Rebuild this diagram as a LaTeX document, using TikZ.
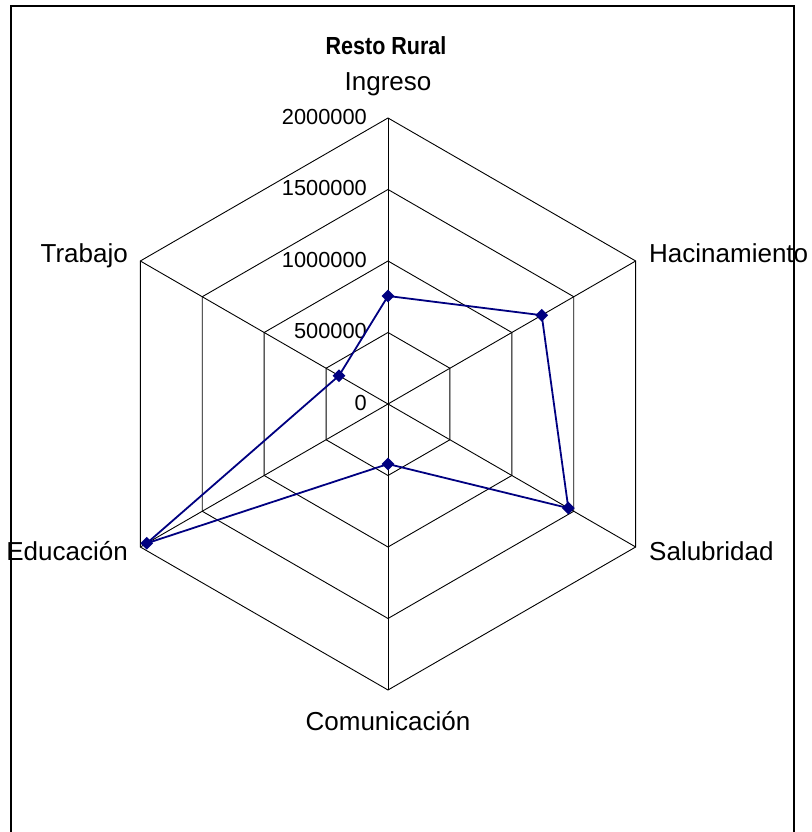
\documentclass[tikz,border=0pt]{standalone}
\usepackage{fontspec}
\setmainfont{Liberation Sans}
\usepackage{tikz}
\usetikzlibrary{shapes.geometric}
\definecolor{navy}{rgb}{0,0,0.5}

\tikzset{
  webline/.style={black, line width=0.9pt},
  serie/.style={navy, line width=1.8pt},
  marca/.style={diamond, fill=navy, inner sep=0pt, minimum size=13pt},
  eje/.style={font=\fontsize{26}{30}\selectfont, inner sep=0pt},
  escala/.style={anchor=base east, font=\fontsize{21.8}{26}\selectfont, inner sep=0pt}
}

\begin{document}
\begin{tikzpicture}[x=1pt, y=1pt]
  \useasboundingbox (0,0) rectangle (811,832);

  \node[font=\bfseries\fontsize{21.5}{25}\selectfont, anchor=base] (titulo) at (386,777)
    {\scalebox{1}[1.15]{Resto Rural}};

  \begin{scope}[shift={(388,428)}]
    \foreach \r in {71.5,143,214.5,286}
      \draw[webline] (90:\r) -- (30:\r) -- (-30:\r) -- (-90:\r) -- (210:\r) -- (150:\r) -- cycle;
    \foreach \a in {90,30,-30,-90,210,150}
      \draw[webline] (0,0) -- (\a:286);

    \node[escala] (e0) at (-21,-6.5) {0};
    \node[escala] (e1) at (-21,65) {500000};
    \node[escala] (e2) at (-21,136.5) {1000000};
    \node[escala] (e3) at (-21,208) {1500000};
    \node[escala] (e4) at (-21,279.5) {2000000};

    \node[eje, anchor=base] (ingreso) at (0,313) {Ingreso};
    \node[eje, anchor=base west] (hacinamiento) at (261,141) {Hacinamiento};
    \node[eje, anchor=base west] (salubridad) at (261,-157) {Salubridad};
    \node[eje, anchor=base] (comunicacion) at (0,-327) {Comunicación};
    \node[eje, anchor=base east] (educacion) at (-260,-157) {Educación};
    \node[eje, anchor=base east] (trabajo) at (-260,141) {Trabajo};

    \node[marca] (pIng) at (90:108) {};
    \node[marca] (pHac) at (30:177.5) {};
    \node[marca] (pSal) at (-30:208.2) {};
    \node[marca] (pCom) at (-90:60) {};
    \node[marca] (pEdu) at (210:278.6) {};
    \node[marca] (pTra) at (150:56.6) {};

    \draw[serie] (pIng.center) -- (pHac.center) -- (pSal.center) -- (pCom.center)
      -- (pEdu.center) -- (pTra.center) -- (pIng.center);
  \end{scope}

  \draw[line width=2pt] (10.7,-10) |- (793.7,826.3) -- (793.7,-10);
\end{tikzpicture}
\end{document}
